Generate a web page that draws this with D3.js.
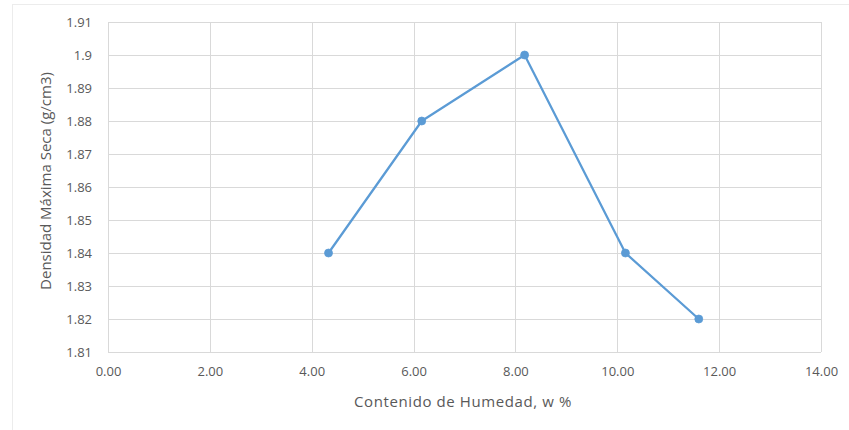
<!DOCTYPE html>
<html>
<head>
<meta charset="utf-8">
<script src="https://cdn.jsdelivr.net/npm/d3@7"></script>
<style>
  html, body { margin: 0; padding: 0; background: #fff; }
  svg { display: block; }
  text { font-family: "Open Sans", "Liberation Sans", sans-serif; fill: #595959; }
</style>
</head>
<body>
<svg id="chart" width="849" height="430"></svg>
<script>
// Compaction test: moisture content (%) vs. dry density (g/cm3)
const moisture = [4.33, 6.16, 8.18, 10.16, 11.60];
const density = [1.84, 1.88, 1.90, 1.84, 1.82];
const xTicks = [0, 2, 4, 6, 8, 10, 12, 14];
const yTicks = [1.81, 1.82, 1.83, 1.84, 1.85, 1.86, 1.87, 1.88, 1.89, 1.90, 1.91];
const xTitle = "Contenido de Humedad, w %";
const yTitle = "Densidad Máxima Seca (g/cm3)";

const W = 849, H = 430;
const plot = { left: 108, right: 821, top: 22, bottom: 352 };

const svg = d3.select("#chart");

// outer chart frame
svg.append("rect")
  .attr("x", 12.5).attr("y", 4.5)
  .attr("width", W - 6).attr("height", H)
  .attr("fill", "none").attr("stroke", "#ececec").attr("stroke-width", 1);

const x = d3.scaleLinear().domain([0, 14]).range([plot.left, plot.right]);
const y = d3.scaleLinear().domain([1.81, 1.91]).range([plot.bottom, plot.top]);

// gridlines
svg.append("g").selectAll("line").data(yTicks).join("line")
  .attr("x1", plot.left).attr("x2", plot.right)
  .attr("y1", d => Math.round(y(d)) + 0.5).attr("y2", d => Math.round(y(d)) + 0.5)
  .attr("stroke", "#d9d9d9").attr("stroke-width", 1);
svg.append("g").selectAll("line").data(xTicks).join("line")
  .attr("y1", plot.top).attr("y2", plot.bottom)
  .attr("x1", d => Math.round(x(d)) + 0.5).attr("x2", d => Math.round(x(d)) + 0.5)
  .attr("stroke", "#d9d9d9").attr("stroke-width", 1);

// axes (labels only, Excel-like)
const yAxis = d3.axisLeft(y).tickValues(yTicks).tickSize(0).tickPadding(0)
  .tickFormat(d => String(+d.toFixed(2)));
const gy = svg.append("g").attr("transform", `translate(${plot.left - 16},0)`).call(yAxis);
gy.select(".domain").remove();
gy.selectAll("text").attr("font-size", 13).attr("fill", "#595959")
  .style("font-family", "'Open Sans', sans-serif");

const xAxis = d3.axisBottom(x).tickValues(xTicks).tickSize(0).tickPadding(0)
  .tickFormat(d3.format(".2f"));
const gx = svg.append("g").attr("transform", `translate(0,${plot.bottom + 15})`).call(xAxis);
gx.select(".domain").remove();
gx.selectAll("text").attr("font-size", 13).attr("fill", "#595959")
  .style("font-family", "'Open Sans', sans-serif");

// axis titles
svg.append("text")
  .attr("x", 463).attr("y", 407)
  .attr("text-anchor", "middle").attr("font-size", 15).attr("letter-spacing", 0.6)
  .text(xTitle);
svg.append("text")
  .attr("transform", `translate(51,181) rotate(-90)`)
  .attr("text-anchor", "middle").attr("font-size", 15)
  .text(yTitle);

// series line and markers
const pts = moisture.map((m, i) => [m, density[i]]);
svg.append("path")
  .datum(pts)
  .attr("fill", "none").attr("stroke", "#5b9bd5").attr("stroke-width", 2.25)
  .attr("stroke-linejoin", "round")
  .attr("d", d3.line().x(d => x(d[0])).y(d => y(d[1])));
svg.append("g").selectAll("circle").data(pts).join("circle")
  .attr("cx", d => x(d[0])).attr("cy", d => y(d[1])).attr("r", 4)
  .attr("fill", "#5b9bd5").attr("stroke", "#5b9bd5").attr("stroke-width", 0.75);
</script>
</body>
</html>
